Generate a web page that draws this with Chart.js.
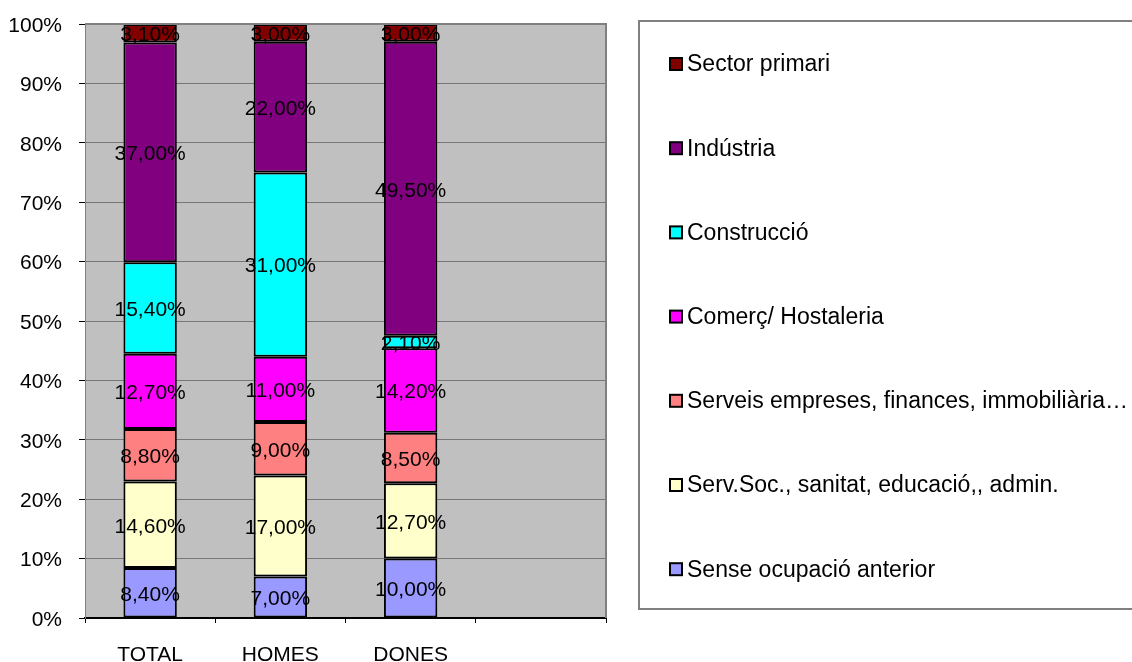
<!DOCTYPE html>
<html>
<head>
<meta charset="utf-8">
<script src="https://cdn.jsdelivr.net/npm/chart.js@4/dist/chart.umd.min.js"></script>
<style>
  body { margin: 0; background: #fff; }
  canvas { display: block; }
</style>
</head>
<body>
<canvas id="grafic" width="1132" height="662"></canvas>
<script>
// categories (the 4th slot is empty in the original)
const categories = ["TOTAL", "HOMES", "DONES", ""];

// series, bottom to top
const senseOcupacio = [8.4, 7.0, 10.0, null];
const servSoc = [14.6, 17.0, 12.7, null];
const serveisEmpreses = [8.8, 9.0, 8.5, null];
const comerc = [12.7, 11.0, 14.2, null];
const construccio = [15.4, 31.0, 2.1, null];
const industria = [37.0, 22.0, 49.5, null];
const sectorPrimari = [3.1, 3.0, 3.0, null];

const seriesNames = [
  "Sense ocupació anterior",
  "Serv.Soc., sanitat, educació,, admin.",
  "Serveis empreses, finances, immobiliària…",
  "Comerç/ Hostaleria",
  "Construcció",
  "Indústria",
  "Sector primari",
];
const seriesData = [senseOcupacio, servSoc, serveisEmpreses, comerc, construccio, industria, sectorPrimari];
const seriesColors = ["#9999FF", "#FFFFCC", "#FF8080", "#FF00FF", "#00FFFF", "#800080", "#800000"];

const yTicks = [0, 10, 20, 30, 40, 50, 60, 70, 80, 90, 100];

const FONT = "Liberation Sans, Arial, sans-serif";

// fons gris de l'àrea del gràfic
const fonsPlugin = {
  id: "fons",
  beforeDraw(chart) {
    const { ctx, chartArea: a } = chart;
    ctx.save();
    ctx.fillStyle = "#C0C0C0";
    ctx.fillRect(a.left, a.top, a.right - a.left, a.bottom - a.top);
    ctx.restore();
  },
  afterDatasetsDraw(chart) {
    const { ctx, chartArea: a } = chart;
    ctx.save();
    ctx.strokeStyle = "#808080";
    ctx.lineWidth = 2;
    ctx.beginPath();
    ctx.moveTo(a.left, a.top);
    ctx.lineTo(a.right, a.top);
    ctx.lineTo(a.right, a.bottom);
    ctx.stroke();
    ctx.restore();
  },
};

// etiquetes de valor dins de cada segment
const etiquetesPlugin = {
  id: "etiquetes",
  afterDatasetsDraw(chart) {
    const ctx = chart.ctx;
    ctx.save();
    ctx.font = "21px " + FONT;
    ctx.fillStyle = "#000";
    ctx.textAlign = "center";
    ctx.textBaseline = "middle";
    chart.data.datasets.forEach((ds, i) => {
      chart.getDatasetMeta(i).data.forEach((el, j) => {
        const v = ds.data[j];
        if (v === null || v === undefined) return;
        const txt = v.toFixed(2).replace(".", ",") + "%";
        ctx.fillText(txt, el.x, (el.y + el.base) / 2 + 2);
      });
    });
    ctx.restore();
  },
};

// llegenda a la dreta, dins d'un requadre
const llegendaPlugin = {
  id: "llegenda",
  afterDraw(chart) {
    const ctx = chart.ctx;
    ctx.save();
    ctx.strokeStyle = "#808080";
    ctx.lineWidth = 2;
    ctx.strokeRect(639, 21, 560, 588);
    ctx.font = "23px " + FONT;
    ctx.textBaseline = "middle";
    ctx.textAlign = "left";
    const n = seriesNames.length;
    for (let k = 0; k < n; k++) {
      const i = n - 1 - k; // ordre invers: Sector primari a dalt
      const cy = 64 + k * 84.2;
      ctx.fillStyle = seriesColors[i];
      ctx.fillRect(670, cy - 6, 12, 12);
      ctx.strokeStyle = "#000";
      ctx.lineWidth = 2;
      ctx.strokeRect(670, cy - 6, 12, 12);
      ctx.fillStyle = "#000";
      ctx.fillText(seriesNames[i], 687, cy + 1);
    }
    ctx.restore();
  },
};

new Chart(document.getElementById("grafic").getContext("2d"), {
  type: "bar",
  data: {
    labels: categories,
    datasets: seriesNames.map((nom, i) => ({
      label: nom,
      data: seriesData[i],
      backgroundColor: seriesColors[i],
      borderColor: "#000",
      borderWidth: 2,
      borderSkipped: false,
      barPercentage: 0.41,
      categoryPercentage: 1,
    })),
  },
  options: {
    responsive: false,
    devicePixelRatio: 1,
    animation: false,
    layout: { padding: { top: 24, right: 526, left: 0, bottom: 0 } },
    plugins: { legend: { display: false }, tooltip: { enabled: false } },
    scales: {
      x: {
        stacked: true,
        afterFit: (s) => { s.height = 44; s.paddingLeft = 0; s.paddingRight = 0; },
        grid: { offset: true, drawOnChartArea: false, drawTicks: true, tickLength: 5, color: "#000", lineWidth: 1 },
        border: { color: "#000", width: 2 },
        ticks: { color: "#000", font: { family: FONT, size: 21 }, padding: 20 },
      },
      y: {
        stacked: true,
        min: 0,
        max: 100,
        afterFit: (s) => { s.width = 85; s.paddingTop = 0; s.paddingBottom = 0; },
        afterBuildTicks: (s) => { s.ticks = yTicks.map((v) => ({ value: v })); },
        grid: { color: "#777", lineWidth: 1, tickLength: 6, tickColor: "#000" },
        border: { color: "#808080", width: 1 },
        ticks: {
          color: "#000",
          font: { family: FONT, size: 21 },
          padding: 17,
          labelOffset: 2,
          callback: (v) => v + "%",
        },
      },
    },
  },
  plugins: [fonsPlugin, etiquetesPlugin, llegendaPlugin],
});
</script>
</body>
</html>
